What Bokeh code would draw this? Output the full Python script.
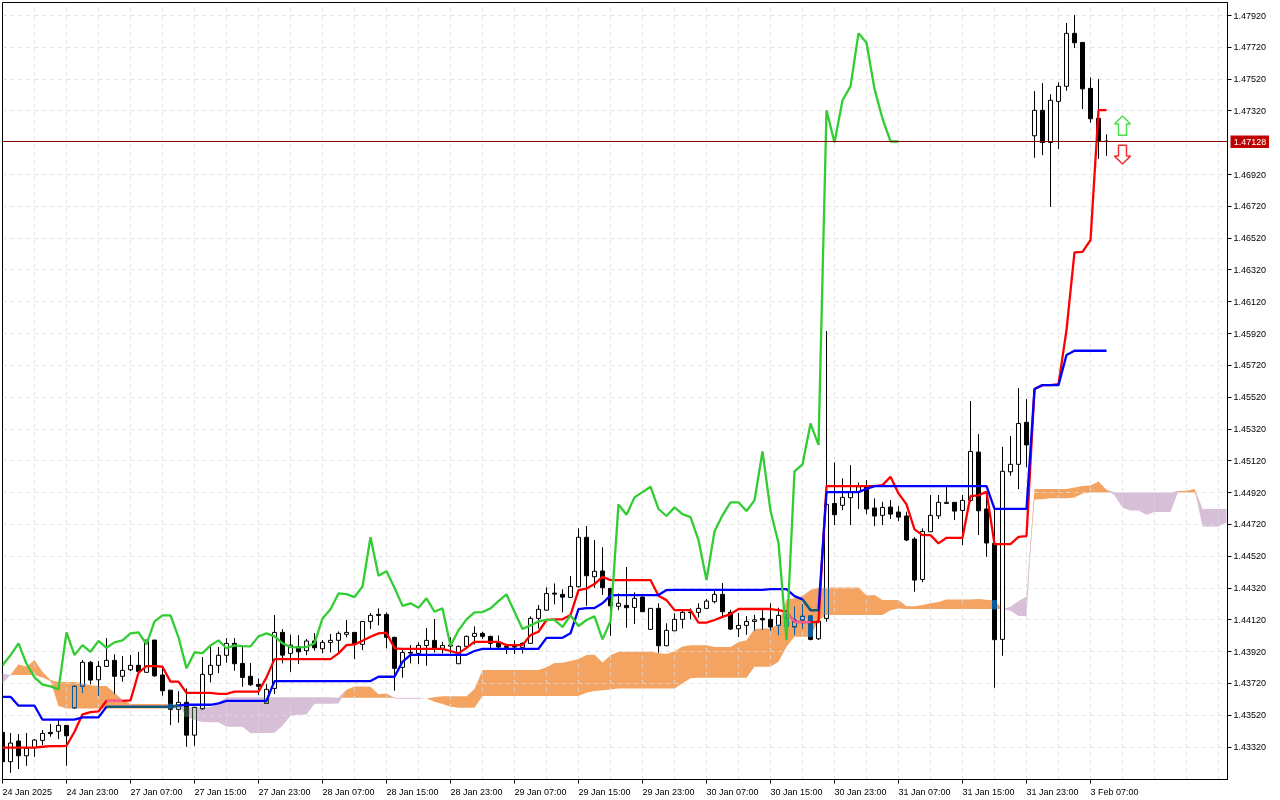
from bokeh.plotting import figure
from bokeh.models import Range1d, FixedTicker, PrintfTickFormatter, Span
from bokeh.core.properties import value
from bokeh.embed import file_html
from bokeh.resources import INLINE

open_ = [1.43412,1.43228,1.43358,1.43265,1.43316,1.43362,1.43412,1.43419,1.43456,1.43567,
1.43702,1.43853,1.43743,1.43827,1.43865,1.43765,1.43806,1.43834,1.43790,1.43993,
1.43773,1.43678,1.43557,1.43601,1.43395,1.43561,1.43777,1.43834,1.43897,1.43972,
1.43846,1.43765,1.43714,1.43595,1.43689,1.44041,1.43909,1.43951,1.43926,1.43987,
1.43938,1.43978,1.43991,1.44029,1.44041,1.43966,1.44110,1.44154,1.44154,1.44010,
1.43821,1.43915,1.43909,1.43959,1.43991,1.43941,1.43961,1.43844,1.43953,1.44016,
1.44035,1.44016,1.43972,1.43953,1.43953,1.43947,1.43972,1.44129,1.44181,1.44288,
1.44280,1.44261,1.44328,1.44639,1.44391,1.44427,1.44318,1.44205,1.44211,1.44198,
1.44263,1.44060,1.44192,1.43957,1.44051,1.44123,1.44165,1.44167,1.44192,1.44234,
1.44280,1.44167,1.44064,1.44085,1.44110,1.44129,1.44123,1.44085,1.44131,1.44076,
1.44119,1.44144,1.44001,1.44129,1.44852,1.44840,1.44888,1.44925,1.44957,1.44823,
1.44777,1.44829,1.44798,1.44773,1.44628,1.44374,1.44674,1.44774,1.44852,1.44859,
1.44808,1.44871,1.45175,1.44817,1.44601,1.43997,1.45051,1.45098,1.45362,1.47164,
1.47324,1.47122,1.47380,1.47475,1.47808,1.47751,1.47462,1.47273,1.47130]
high = [1.43412,1.43408,1.43402,1.43408,1.43370,1.43427,1.43465,1.43490,1.43456,1.43702,
1.43867,1.43861,1.43861,1.44005,1.43903,1.43892,1.43898,1.43919,1.43993,1.43993,
1.43817,1.43678,1.43672,1.43689,1.43570,1.43886,1.43949,1.43949,1.44005,1.44005,
1.43961,1.43848,1.43752,1.43716,1.44150,1.44062,1.44026,1.44024,1.43999,1.44037,
1.43993,1.44031,1.44047,1.44119,1.44041,1.44112,1.44163,1.44192,1.44167,1.44014,
1.43942,1.43961,1.43978,1.44068,1.44125,1.43982,1.44010,1.43959,1.44022,1.44079,
1.44045,1.44020,1.44022,1.43966,1.43991,1.43978,1.44142,1.44213,1.44324,1.44349,
1.44312,1.44395,1.44695,1.44710,1.44622,1.44576,1.44318,1.44286,1.44452,1.44293,
1.44268,1.44192,1.44224,1.44098,1.44161,1.44177,1.44192,1.44224,1.44251,1.44301,
1.44351,1.44183,1.44163,1.44144,1.44152,1.44181,1.44224,1.44196,1.44181,1.44202,
1.44219,1.44144,1.44119,1.45936,1.45110,1.45010,1.45093,1.44984,1.44999,1.44884,
1.44862,1.44873,1.44835,1.44800,1.44640,1.44695,1.44905,1.44905,1.44957,1.44859,
1.44905,1.45496,1.45288,1.44925,1.44817,1.45208,1.45276,1.45577,1.45508,1.47445,
1.47495,1.47425,1.47500,1.47873,1.47923,1.47751,1.47531,1.47520,1.47173]
low = [1.43207,1.43158,1.43182,1.43202,1.43259,1.43333,1.43385,1.43370,1.43202,1.43561,
1.43661,1.43714,1.43643,1.43827,1.43653,1.43731,1.43798,1.43787,1.43790,1.43762,
1.43643,1.43458,1.43473,1.43322,1.43328,1.43557,1.43727,1.43785,1.43850,1.43800,
1.43699,1.43704,1.43647,1.43595,1.43653,1.43846,1.43793,1.43842,1.43898,1.43926,
1.43909,1.43915,1.43915,1.44010,1.43873,1.43930,1.44062,1.44085,1.43941,1.43674,
1.43756,1.43846,1.43842,1.43831,1.43915,1.43909,1.43909,1.43844,1.43947,1.43966,
1.44001,1.43941,1.43941,1.43905,1.43905,1.43909,1.43972,1.44066,1.44177,1.44217,
1.44167,1.44261,1.44324,1.44208,1.44322,1.44276,1.44020,1.44181,1.44070,1.44093,
1.44171,1.44060,1.43913,1.43957,1.44051,1.44066,1.44123,1.44133,1.44192,1.44224,
1.44139,1.44056,1.44012,1.44026,1.44051,1.44058,1.44051,1.44024,1.43993,1.44024,
1.44066,1.43991,1.43993,1.44108,1.44716,1.44810,1.44716,1.44817,1.44785,1.44710,
1.44716,1.44754,1.44741,1.44615,1.44297,1.44356,1.44674,1.44754,1.44848,1.44747,
1.44590,1.44862,1.44653,1.44517,1.43693,1.43894,1.45026,1.44942,1.45079,1.47025,
1.47042,1.46717,1.47080,1.47447,1.47715,1.47332,1.47246,1.47019,1.47038]
close = [1.43228,1.43345,1.43265,1.43312,1.43364,1.43406,1.43404,1.43456,1.43391,1.43702,
1.43853,1.43741,1.43827,1.43865,1.43765,1.43802,1.43834,1.43796,1.43993,1.43768,
1.43674,1.43557,1.43601,1.43395,1.43570,1.43777,1.43834,1.43897,1.43972,1.43844,
1.43758,1.43712,1.43702,1.43683,1.44041,1.43898,1.43961,1.43919,1.43987,1.43944,
1.43978,1.43991,1.44035,1.44041,1.43966,1.44110,1.44148,1.44148,1.44010,1.43815,
1.43915,1.43911,1.43959,1.43991,1.43941,1.43959,1.43955,1.43953,1.44016,1.44035,
1.44016,1.43972,1.43949,1.43947,1.43949,1.43972,1.44129,1.44186,1.44286,1.44282,
1.44263,1.44330,1.44639,1.44397,1.44425,1.44322,1.44208,1.44224,1.44196,1.44255,
1.44171,1.44192,1.43957,1.44054,1.44123,1.44167,1.44169,1.44192,1.44238,1.44280,
1.44171,1.44062,1.44085,1.44110,1.44120,1.44120,1.44075,1.44148,1.44081,1.44119,
1.44142,1.43997,1.44112,1.44846,1.44781,1.44890,1.44923,1.44957,1.44817,1.44773,
1.44827,1.44785,1.44766,1.44622,1.44370,1.44676,1.44777,1.44859,1.44859,1.44804,
1.44871,1.45179,1.44806,1.44603,1.43995,1.45054,1.45098,1.45355,1.45220,1.47324,
1.47122,1.47387,1.47475,1.47808,1.47749,1.47459,1.47271,1.47128,1.47128]

tenkan = [1.43316,1.43316,1.43316,1.43316,1.43316,1.43322,1.43326,1.43326,1.43328,1.43416,
1.43526,1.43540,1.43544,1.43611,1.43611,1.43611,1.43614,1.43787,1.43829,1.43829,
1.43825,1.43731,1.43731,1.43661,1.43661,1.43661,1.43661,1.43655,1.43655,1.43668,
1.43668,1.43668,1.43668,1.43758,1.43873,1.43873,1.43873,1.43873,1.43873,1.43873,
1.43873,1.43873,1.43909,1.43961,1.43966,1.43988,1.44014,1.44035,1.44039,1.43941,
1.43938,1.43938,1.43938,1.43938,1.43938,1.43938,1.43924,1.43909,1.43944,1.43982,
1.43982,1.43982,1.43982,1.43961,1.43961,1.43961,1.44024,1.44045,1.44119,1.44123,
1.44123,1.44150,1.44307,1.44317,1.44345,1.44391,1.44370,1.44370,1.44370,1.44370,
1.44370,1.44370,1.44271,1.44244,1.44181,1.44181,1.44181,1.44102,1.44102,1.44119,
1.44139,1.44156,1.44188,1.44188,1.44188,1.44188,1.44188,1.44181,1.44171,1.44108,
1.44106,1.44106,1.44106,1.44961,1.44961,1.44961,1.44961,1.44961,1.44961,1.44961,
1.44967,1.45020,1.44915,1.44846,1.44689,1.44653,1.44653,1.44601,1.44636,1.44636,
1.44636,1.44898,1.44903,1.44925,1.44596,1.44596,1.44596,1.44642,1.44647,1.45571,
1.45596,1.45596,1.45602,1.45942,1.46431,1.46434,1.46508,1.47325,1.47325]
kijun = [1.43636,1.43636,1.43580,1.43580,1.43580,1.43492,1.43492,1.43492,1.43492,1.43492,
1.43507,1.43507,1.43507,1.43573,1.43573,1.43573,1.43573,1.43573,1.43573,1.43573,
1.43573,1.43573,1.43582,1.43586,1.43586,1.43586,1.43586,1.43595,1.43611,1.43611,
1.43611,1.43611,1.43611,1.43611,1.43735,1.43735,1.43735,1.43735,1.43735,1.43735,
1.43735,1.43735,1.43735,1.43735,1.43735,1.43735,1.43735,1.43762,1.43762,1.43762,
1.43856,1.43900,1.43900,1.43900,1.43900,1.43900,1.43900,1.43900,1.43900,1.43924,
1.43938,1.43938,1.43938,1.43938,1.43938,1.43938,1.43938,1.43938,1.44007,1.44007,
1.44007,1.44035,1.44188,1.44194,1.44194,1.44224,1.44274,1.44276,1.44276,1.44276,
1.44276,1.44276,1.44276,1.44307,1.44309,1.44309,1.44309,1.44309,1.44309,1.44309,
1.44309,1.44309,1.44309,1.44309,1.44309,1.44309,1.44313,1.44313,1.44313,1.44269,
1.44249,1.44181,1.44181,1.44923,1.44923,1.44923,1.44923,1.44923,1.44944,1.44961,
1.44961,1.44961,1.44961,1.44961,1.44961,1.44961,1.44961,1.44961,1.44961,1.44961,
1.44961,1.44961,1.44961,1.44961,1.44818,1.44818,1.44818,1.44818,1.44818,1.45571,
1.45596,1.45596,1.45596,1.45785,1.45812,1.45812,1.45812,1.45812,1.45812]
senkou_a_head = [1.43721,1.43773,1.43840,1.43825,1.43867,1.43793,1.43741,1.43729,1.43729,1.43729,
1.43721,1.43708,1.43704,1.43704,1.43661,1.43616,1.43590,1.43590,1.43590,1.43590,
1.43590,1.43590,1.43584,1.43511,1.43490,1.43477]
senkou_b = [1.43783,1.43773,1.43773,1.43773,1.43773,1.43758,1.43735,1.43578,1.43563,1.43563,
1.43563,1.43563,1.43563,1.43563,1.43563,1.43563,1.43563,1.43563,1.43563,1.43563,
1.43563,1.43563,1.43563,1.43570,1.43570,1.43570,1.43570,1.43599,1.43633,1.43633,
1.43633,1.43633,1.43633,1.43633,1.43633,1.43633,1.43633,1.43633,1.43633,1.43633,
1.43633,1.43633,1.43630,1.43630,1.43630,1.43630,1.43630,1.43630,1.43630,1.43630,
1.43630,1.43630,1.43630,1.43625,1.43605,1.43590,1.43573,1.43567,1.43567,1.43567,
1.43641,1.43641,1.43641,1.43641,1.43641,1.43641,1.43641,1.43641,1.43641,1.43641,
1.43641,1.43641,1.43641,1.43661,1.43672,1.43678,1.43682,1.43689,1.43689,1.43689,
1.43689,1.43689,1.43689,1.43689,1.43689,1.43722,1.43752,1.43756,1.43756,1.43756,
1.43756,1.43756,1.43756,1.43756,1.43825,1.43825,1.43825,1.43856,1.43951,1.44014,
1.44014,1.44014,1.44119,1.44150,1.44150,1.44150,1.44150,1.44150,1.44150,1.44150,
1.44150,1.44181,1.44192,1.44188,1.44188,1.44188,1.44188,1.44188,1.44188,1.44188,
1.44188,1.44188,1.44188,1.44188,1.44188,1.44188,1.44202,1.44238,1.44265,1.44877,
1.44879,1.44884,1.44884,1.44884,1.44890,1.44915,1.44921,1.44921,1.44921,1.44921,
1.44921,1.44921,1.44921,1.44921,1.44921,1.44921,1.44921,1.44921,1.44921,1.44921,
1.44817,1.44817,1.44817,1.44817]

x_tick_bars = [0,8,16,24,32,40,48,56,64,72,80,88,96,104,112,120,128,136]
x_tick_labels = ["24 Jan 2025","24 Jan 23:00","27 Jan 07:00","27 Jan 15:00","27 Jan 23:00",
"28 Jan 07:00","28 Jan 15:00","28 Jan 23:00","29 Jan 07:00","29 Jan 15:00","29 Jan 23:00",
"30 Jan 07:00","30 Jan 15:00","30 Jan 23:00","31 Jan 07:00","31 Jan 15:00","31 Jan 23:00","3 Feb 07:00"]
price_ticks = [1.47920,1.47720,1.47520,1.47320,1.46920,1.46720,1.46520,1.46320,1.46120,1.45920,
1.45720,1.45520,1.45320,1.45120,1.44920,1.44720,1.44520,1.44320,1.44120,1.43920,1.43720,1.43520,1.43320]
last_price = 1.47128
up_arrow = (140, 1.47288, 1.47168)    # bar, tip, base
down_arrow = (140, 1.46986, 1.47105)  # bar, tip, base

ORANGE, PURPLE = "#F4A460", "#D8BFD8"
INV = {ORANGE: "#0B5B9F", PURPLE: "#274027"}
BAR_W = 0.25
PX_PER_BAR = 8.0
LINE_W = 2.3

n = len(close)
chikou = close[26:]
senkou_a = senkou_a_head + [(tenkan[i] + kijun[i]) / 2 for i in range(128)]
cloud_x = list(range(len(senkou_b)))
cloud_top = [max(a, b) for a, b in zip(senkou_a, senkou_b)]

p = figure(width=1280, height=800, frame_width=1225, frame_height=777,
           x_range=Range1d(0, 153.125), y_range=Range1d(1.43116, 1.48002),
           y_axis_location="right", toolbar_location=None, output_backend="svg",
           min_border_left=2, min_border_top=2, min_border_right=53, min_border_bottom=21)
p.styles = {"position": "fixed", "left": "0px", "top": "0px"}
p.outline_line_color = "black"
p.outline_line_width = 1
p.background_fill_color = "white"

# axes
ya = p.yaxis[0]
ya.ticker = FixedTicker(ticks=price_ticks)
ya.formatter = PrintfTickFormatter(format="%.5f")
ya.major_label_text_font = "Liberation Sans"
ya.major_label_text_font_size = "9px"
ya.major_label_text_color = "black"
ya.major_tick_in = 0
ya.major_tick_out = 4
ya.minor_tick_line_color = None
ya.major_label_standoff = 2
ya.axis_line_color = "black"

# bottom labels start at their tick: axis labels are centred, so each sits half its width to the right
GLYPH_W = {" ": 2.5, ":": 2.5, "J": 4.5, "F": 5.5}
def label_center(bar, text):
    w = sum(GLYPH_W.get(ch, 5.0) for ch in text)
    return bar + (w / 2) / PX_PER_BAR

label_pos = [label_center(b, t) for b, t in zip(x_tick_bars, x_tick_labels)]
xa = p.xaxis[0]
xa.ticker = FixedTicker(ticks=label_pos, minor_ticks=x_tick_bars)
xa.major_label_overrides = {c: t for c, t in zip(label_pos, x_tick_labels)}
xa.major_label_text_font = "Liberation Sans"
xa.major_label_text_font_size = "9px"
xa.major_label_text_color = "black"
xa.major_label_standoff = 3
xa.major_tick_line_color = None
xa.major_tick_in = 0
xa.major_tick_out = 0
xa.minor_tick_line_color = "black"
xa.minor_tick_in = 0
xa.minor_tick_out = 4
xa.axis_line_color = "black"

for g in (p.xgrid[0], p.ygrid[0]):
    g.grid_line_color = "#dcdcdc"
    g.grid_line_alpha = 0.8
    g.grid_line_dash = "4 4"
    g.grid_line_width = 1
p.xgrid[0].ticker = FixedTicker(ticks=list(range(0, 154, 4)))
p.ygrid[0].ticker = FixedTicker(ticks=price_ticks)

# cloud (painted before the grid)
p.varea(x=cloud_x, y1=senkou_b, y2=cloud_top, fill_color=ORANGE, level="underlay")
p.varea(x=cloud_x, y1=senkou_a, y2=cloud_top, fill_color=PURPLE, level="underlay")

def overlap(a, b, c, d):
    lo, hi = max(a, c), min(b, d)
    return (lo, hi) if hi > lo else None

def cloud_at(i):
    a, b = senkou_a[i], senkou_b[i]
    return min(a, b), max(a, b), (ORANGE if a >= b else PURPLE)

white_x, white_b, white_t = [], [], []
wick = dict(x=[], y0=[], y1=[])
inv_wick = dict(x0=[], x1=[], y0=[], y1=[], c=[])
inv_body = dict(l=[], r=[], b=[], t=[], c=[])
bull = dict(l=[], r=[], b=[], t=[])
bear = dict(l=[], r=[], b=[], t=[])

for i in range(n):
    o, h, l, c = open_[i], high[i], low[i], close[i]
    top, bot = max(o, c), min(o, c)
    cl, ch, col = cloud_at(i)
    ic = INV[col]
    for a, b in ((top, h), (l, bot)):
        if b > a:
            wick["x"].append(i); wick["y0"].append(a); wick["y1"].append(b)
            ov = overlap(a, b, cl, ch)
            if ov:
                inv_wick["x0"].append(i); inv_wick["x1"].append(i)
                inv_wick["y0"].append(ov[0]); inv_wick["y1"].append(ov[1]); inv_wick["c"].append(ic)
    tgt = bull if c > o else bear
    tgt["l"].append(i - BAR_W); tgt["r"].append(i + BAR_W); tgt["b"].append(bot); tgt["t"].append(top)
    ov = overlap(bot, top, cl, ch)
    if c > o:
        if not ov:
            white_x.append(i); white_b.append(bot); white_t.append(top)
        else:
            if top > ov[1]:
                white_x.append(i); white_b.append(ov[1]); white_t.append(top)
            if bot < ov[0]:
                white_x.append(i); white_b.append(bot); white_t.append(ov[0])
            for sx in (i - BAR_W, i + BAR_W):
                inv_wick["x0"].append(sx); inv_wick["x1"].append(sx)
                inv_wick["y0"].append(ov[0]); inv_wick["y1"].append(ov[1]); inv_wick["c"].append(ic)
            for yy in (top, bot):
                if cl < yy < ch:
                    inv_wick["x0"].append(i - BAR_W); inv_wick["x1"].append(i + BAR_W)
                    inv_wick["y0"].append(yy); inv_wick["y1"].append(yy); inv_wick["c"].append(ic)
    elif ov:
        inv_body["l"].append(i - BAR_W); inv_body["r"].append(i + BAR_W)
        inv_body["b"].append(ov[0]); inv_body["t"].append(ov[1]); inv_body["c"].append(ic)

p.quad(left=[x - BAR_W for x in white_x], right=[x + BAR_W for x in white_x],
       bottom=white_b, top=white_t, fill_color="white", line_color=None)
p.segment(x0=wick["x"], x1=wick["x"], y0=wick["y0"], y1=wick["y1"], line_color="black", line_width=1)
p.quad(left=bull["l"], right=bull["r"], bottom=bull["b"], top=bull["t"],
       fill_color=None, line_color="black", line_width=1)
p.quad(left=bear["l"], right=bear["r"], bottom=bear["b"], top=bear["t"],
       fill_color="black", line_color="black", line_width=1)
p.quad(left=inv_body["l"], right=inv_body["r"], bottom=inv_body["b"], top=inv_body["t"],
       fill_color=inv_body["c"], line_color=inv_body["c"], line_width=1)
p.segment(x0=inv_wick["x0"], x1=inv_wick["x1"], y0=inv_wick["y0"], y1=inv_wick["y1"],
          line_color=inv_wick["c"], line_width=1)

# ichimoku lines
bars = list(range(n))
p.line(bars, tenkan, line_color="#FF0000", line_width=LINE_W)
p.line(bars, kijun, line_color="#0000FF", line_width=LINE_W)

def inside_segments(series):
    seg = dict(x0=[], x1=[], y0=[], y1=[])
    for i in range(n - 1):
        c0, c1 = cloud_at(i), cloud_at(i + 1)
        if c0[2] == ORANGE and c1[2] == ORANGE and c0[0] <= series[i] <= c0[1] and c1[0] <= series[i + 1] <= c1[1]:
            seg["x0"].append(i); seg["x1"].append(i + 1); seg["y0"].append(series[i]); seg["y1"].append(series[i + 1])
    return seg

s = inside_segments(tenkan)
p.segment(x0=s["x0"], x1=s["x1"], y0=s["y0"], y1=s["y1"], line_color="#F4609F", line_width=LINE_W)
s = inside_segments(kijun)
p.segment(x0=s["x0"], x1=s["x1"], y0=s["y0"], y1=s["y1"], line_color="#0F6068", line_width=LINE_W)

p.line(list(range(len(chikou))), chikou, line_color="#32CD32", line_width=LINE_W)

# price line
p.add_layout(Span(location=last_price, dimension="width", line_color="#8B0000", line_width=1))

# arrows
def arrow(spec, color):
    b, tip, base = spec
    neck = tip + (base - tip) * 0.42
    xs = [b, b + 1, b + 0.5, b + 0.5, b - 0.5, b - 0.5, b - 1]
    ys = [tip, neck, neck, base, base, neck, neck]
    p.patch(xs, ys, fill_color="white", line_color=color, line_width=1.5)

arrow(up_arrow, "#4FDD4F")
arrow(down_arrow, "#F03030")

# red box with the last price: a small figure laid over the price scale
box = figure(width=39, height=13, x_range=Range1d(0, 1), y_range=Range1d(0, 1),
             x_axis_location=None, y_axis_location=None, toolbar_location=None,
             output_backend="svg", min_border=0)
box.styles = {"position": "fixed", "left": "1230px", "top": "135px"}
box.outline_line_color = None
box.background_fill_color = "#C00000"
box.grid.visible = False
box.text(x=[0.5], y=[0.5], text=["%.5f" % last_price], text_color="white",
         text_font=value("Liberation Sans"), text_font_size="9px",
         text_align="center", text_baseline="middle")

open("out.html", "w").write(file_html((p, box), INLINE))
